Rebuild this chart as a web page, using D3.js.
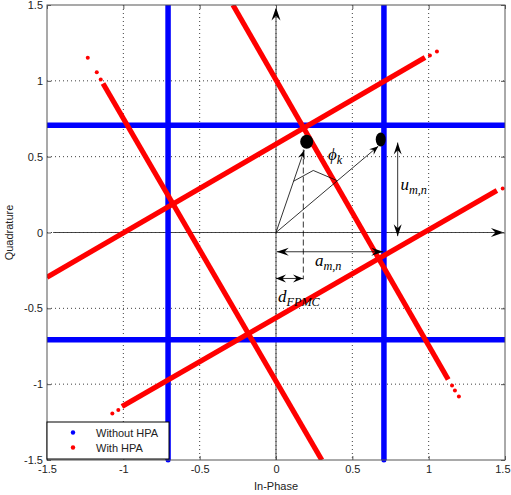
<!DOCTYPE html>
<html><head><meta charset="utf-8">
<script src="https://cdn.jsdelivr.net/npm/d3@7"></script>
<style>body{margin:0;background:#fff}svg{display:block}</style>
</head><body>
<svg id="c" width="511" height="495"></svg>
<script>
// ---------- data ----------
const xTicks = [-1.5,-1,-0.5,0,0.5,1,1.5];
const yTicks = [-1.5,-1,-0.5,0,0.5,1,1.5];
const xTickLabels = ["-1.5","-1","-0.5","0","0.5","1","1.5"];
const yTickLabels = ["-1.5","-1","-0.5","0","0.5","1","1.5"];
const seriesNames = ["Without HPA","With HPA"];
const seriesColors = ["#0000ff","#ff0000"];

// Without HPA: four straight lines of points (x1,y1,x2,y2)
const withoutHPA = [
  [-0.707,-1.5,-0.707,1.5],
  [ 0.707,-1.5, 0.707,1.5],
  [-1.5,-0.707, 1.5,-0.707],
  [-1.5, 0.707, 1.5, 0.707]
];
// With HPA: four rotated/compressed lines (solid parts)
const withHPA = [
  [-1.133, 0.982, 0.300,-1.500],
  [-0.282, 1.500, 1.128,-0.969],
  [-1.500,-0.295, 0.976, 1.154],
  [-1.009,-1.147, 1.447, 0.277]
];
// With HPA: sparse outlying points at the line ends
const withHPAsparseX = [-1.233,-1.174,-1.148, 1.153,1.172,1.198, 1.008,1.054, 1.485,-1.072,-1.033];
const withHPAsparseY = [ 1.152, 1.056, 1.008,-1.009,-1.042,-1.081, 1.167,1.193, 0.290,-1.193,-1.171];

// annotation geometry (data units)
const symbolPts = [[0.201,0.598],[0.686,0.613]];
const vecTips = [[0.185,0.543],[0.670,0.569]];
const phiArc = [[0.115,0.338],[0.244,0.409],[0.398,0.343]];

// ---------- drawing ----------
const W=511,H=495, L=47,R=505,T=5,B=460;
const x = d3.scaleLinear().domain([-1.5,1.5]).range([L,R]);
const y = d3.scaleLinear().domain([-1.5,1.5]).range([B,T]);
const svg = d3.select("#c");
const sans = "'Liberation Sans', Arial, sans-serif";
const serif = "'Liberation Serif','DejaVu Serif',serif";

svg.append("defs").append("clipPath").attr("id","clip")
  .append("rect").attr("x",L).attr("y",T).attr("width",R-L).attr("height",B-T);

// grid
const grid = svg.append("g").attr("stroke","#000").attr("stroke-width",1)
  .attr("stroke-dasharray","1,3").attr("opacity",0.75);
xTicks.slice(1,-1).forEach(v=>grid.append("line").attr("x1",x(v)).attr("x2",x(v)).attr("y1",T).attr("y2",B));
yTicks.slice(1,-1).forEach(v=>grid.append("line").attr("y1",y(v)).attr("y2",y(v)).attr("x1",L).attr("x2",R));

const plot = svg.append("g").attr("clip-path","url(#clip)");

// black axis lines through origin
plot.append("line").attr("x1",x(0)).attr("x2",x(0)).attr("y1",y(-1.5)).attr("y2",y(1.47))
  .attr("stroke","#333").attr("stroke-width",0.9);
plot.append("line").attr("x1",x(-1.46)).attr("x2",x(1.48)).attr("y1",y(0)).attr("y2",y(0))
  .attr("stroke","#333").attr("stroke-width",0.9);

// series
plot.selectAll(".wo").data(withoutHPA).join("line")
  .attr("x1",d=>x(d[0])).attr("y1",d=>y(d[1])).attr("x2",d=>x(d[2])).attr("y2",d=>y(d[3]))
  .attr("stroke",seriesColors[0]).attr("stroke-width",5.5);
svg.append("g").selectAll("circle").data([[-0.707,-1.5],[0.707,-1.5]]).join("circle")
  .attr("cx",d=>x(d[0])).attr("cy",d=>y(d[1])).attr("r",2.5).attr("fill",seriesColors[0]);

plot.selectAll(".w").data(withHPA).join("line")
  .attr("x1",d=>x(d[0])).attr("y1",d=>y(d[1])).attr("x2",d=>x(d[2])).attr("y2",d=>y(d[3]))
  .attr("stroke",seriesColors[1]).attr("stroke-width",5.2);
svg.append("g").selectAll("circle").data(withHPAsparseX.map((v,i)=>[v,withHPAsparseY[i]])).join("circle")
  .attr("cx",d=>x(d[0])).attr("cy",d=>y(d[1])).attr("r",2).attr("fill",seriesColors[1]);

// ---------- annotations ----------
const ann = svg.append("g");
function head(tx,ty,fx,fy,len,wid){
  const dx=tx-fx, dy=ty-fy, m=Math.hypot(dx,dy), ux=dx/m, uy=dy/m, nx=-uy, ny=ux;
  const bx=tx-ux*len, by=ty-uy*len, cx=tx-ux*len*0.65, cy=ty-uy*len*0.65;
  ann.append("path").attr("d",`M${tx},${ty}L${bx+nx*wid},${by+ny*wid}L${cx},${cy}L${bx-nx*wid},${by-ny*wid}Z`)
    .attr("fill","#000");
}
function seg(a,b,dash){
  ann.append("line").attr("x1",x(a[0])).attr("y1",y(a[1])).attr("x2",x(b[0])).attr("y2",y(b[1]))
    .attr("stroke","#000").attr("stroke-width",0.8).attr("stroke-dasharray",dash||null);
}
// axis arrowheads
head(x(0),y(1.483),x(0),y(0),13,4.5);
head(x(1.493),y(0),x(0),y(0),13,4.5);
// vectors to symbols
vecTips.forEach(t=>{ seg([0,0],t); head(x(t[0]),y(t[1]),x(0),y(0),9,3.5); });
symbolPts.forEach((p,i)=>ann.append("ellipse").attr("cx",x(p[0])).attr("cy",y(p[1]))
  .attr("rx",i?5:6.5).attr("ry",7).attr("fill","#000"));
// phi arc
ann.append("path").attr("d",d3.line().x(d=>x(d[0])).y(d=>y(d[1]))(phiArc))
  .attr("fill","none").attr("stroke","#000").attr("stroke-width",0.8);
// u double arrow
seg([0.797,0.593],[0.797,-0.024]);
head(x(0.797),y(0.593),x(0.797),y(0),12,4);
head(x(0.797),y(-0.024),x(0.797),y(0.6),12,4);
// a double arrow
seg([0.005,-0.127],[0.703,-0.127]);
head(x(0.005),y(-0.127),x(0.7),y(-0.127),12,4);
head(x(0.703),y(-0.127),x(0),y(-0.127),12,4);
// dashed line
seg([0.179,0.547],[0.179,-0.31],"6,3");
// d double arrow
seg([0,-0.303],[0.177,-0.303]);
head(x(0),y(-0.303),x(0.2),y(-0.303),10,4);
head(x(0.177),y(-0.303),x(0),y(-0.303),10,4);

// math labels
function mlabel(px,py,main,sub,size){
  const t=ann.append("text").attr("x",x(px)).attr("y",y(py)).attr("font-family",serif)
    .attr("font-style","italic").attr("font-size",size).attr("fill","#000");
  t.append("tspan").text(main);
  t.append("tspan").attr("dy",4).attr("font-size",size*0.72).text(sub);
}
mlabel(0.341,0.481,"\u03D5","k",17);
mlabel(0.815,0.283,"u","m,n",17);
mlabel(0.255,-0.218,"a","m,n",17);
mlabel(0.013,-0.461,"d","FPMC",17);

// ---------- axes ----------
const axc="#555";
svg.append("rect").attr("x",L).attr("y",T).attr("width",R-L).attr("height",B-T)
  .attr("fill","none").attr("stroke",axc).attr("stroke-width",1);
const xa = svg.append("g").attr("transform",`translate(0,${B})`)
  .call(d3.axisBottom(x).tickValues(xTicks).tickSize(-4).tickPadding(6).tickFormat((d,i)=>xTickLabels[i]));
const xt = svg.append("g").attr("transform",`translate(0,${T})`)
  .call(d3.axisTop(x).tickValues(xTicks).tickSize(-4).tickFormat(""));
const ya = svg.append("g").attr("transform",`translate(${L},0)`)
  .call(d3.axisLeft(y).tickValues(yTicks).tickSize(-4).tickPadding(4).tickFormat((d,i)=>yTickLabels[i]));
const yr = svg.append("g").attr("transform",`translate(${R},0)`)
  .call(d3.axisRight(y).tickValues(yTicks).tickSize(-4).tickFormat(""));
[xa,xt,ya,yr].forEach(g=>{
  g.select(".domain").remove();
  g.selectAll("line").attr("stroke",axc);
  g.selectAll("text").attr("font-family",sans).attr("font-size",11).attr("fill","#222");
});
xa.selectAll("text").attr("dy","0.6em");
xa.selectAll("text").filter((d,i)=>i===xTicks.length-1).attr("text-anchor","end").attr("dx",5);

svg.append("text").attr("x",x(0)).attr("y",490).attr("text-anchor","middle")
  .attr("font-family",sans).attr("font-size",11).attr("fill","#222").text("In-Phase");
svg.append("text").attr("transform",`translate(13,${y(0)}) rotate(-90)`).attr("text-anchor","middle")
  .attr("font-family",sans).attr("font-size",11).attr("fill","#222").text("Quadrature");

// ---------- legend ----------
const lg = svg.append("g");
lg.append("rect").attr("x",L).attr("y",422).attr("width",122).attr("height",37)
  .attr("fill","#fff").attr("stroke","#000").attr("stroke-width",1);
seriesNames.forEach((n,i)=>{
  lg.append("circle").attr("cx",73).attr("cy",432.5+i*15).attr("r",2.2).attr("fill",seriesColors[i]);
  lg.append("text").attr("x",96).attr("y",436.5+i*15).attr("font-family",sans).attr("font-size",11)
    .attr("fill","#222").text(n);
});
</script>
</body></html>
